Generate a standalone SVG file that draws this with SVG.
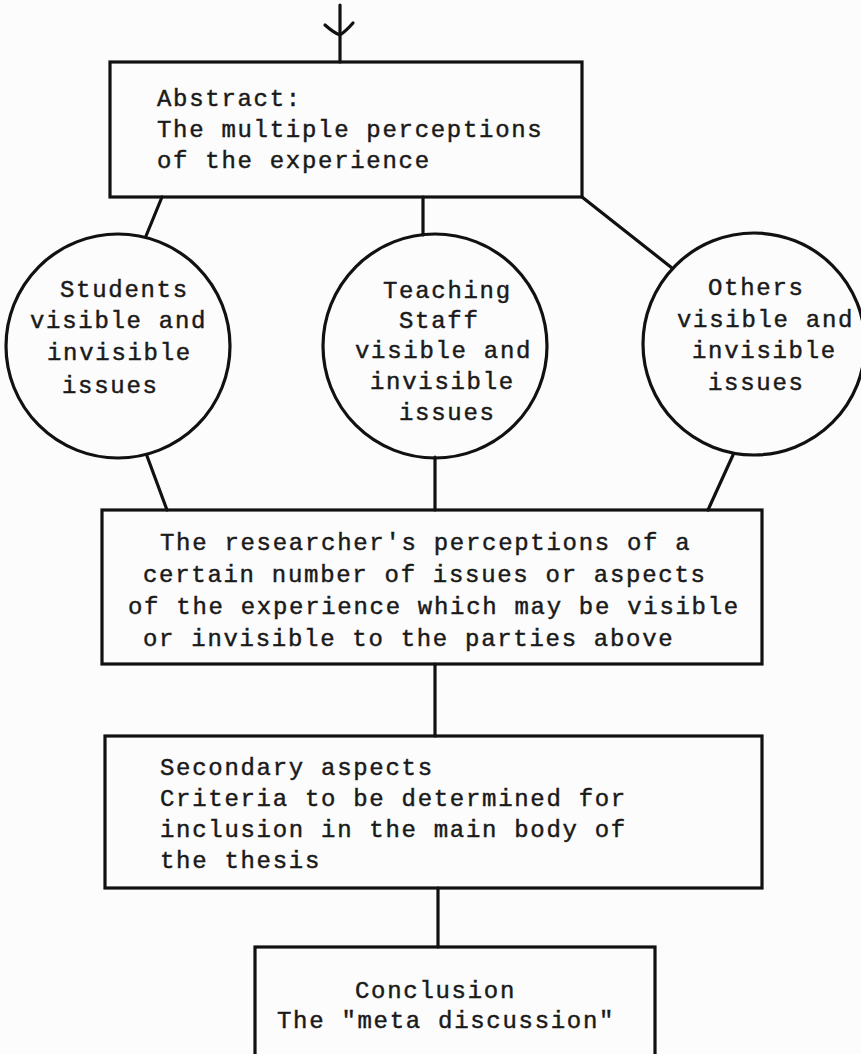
<svg xmlns="http://www.w3.org/2000/svg" width="861" height="1054" viewBox="0 0 861 1054">
  <style>
    .box { fill: none; stroke: #111; stroke-width: 3.2; }
    .bubble { fill: none; stroke: #111; stroke-width: 3.2; }
    .wire { fill: none; stroke: #111; stroke-width: 3.2; stroke-linecap: round; stroke-linejoin: round; }
    .tw { font-family: "Liberation Mono", "DejaVu Sans Mono", monospace; font-size: 24px; letter-spacing: 1.7px; fill: #1a1a1a; stroke: #1a1a1a; stroke-width: 0.45px; }
  </style>
  <rect x="0" y="0" width="861" height="1054" fill="#fcfcfc"/>

  <!-- connectors -->
  <g id="connectors">
    <path class="wire" d="M340 5 V62"/>
    <path class="wire" d="M325 25 Q334 33 340 35 Q346 31 353 23"/>
    <path class="wire" d="M162 197 L146 236"/>
    <path class="wire" d="M423 197 V235"/>
    <path class="wire" d="M582 197 L672 268"/>
    <path class="wire" d="M147 456 L167 510"/>
    <path class="wire" d="M435 457 V510"/>
    <path class="wire" d="M733 455 L708 510"/>
    <path class="wire" d="M435 664 V736"/>
    <path class="wire" d="M438 888 V947"/>
  </g>

  <!-- abstract box -->
  <g id="abstract">
    <rect class="box" x="110" y="62" width="472" height="135"/>
    <text class="tw" x="157" y="106">Abstract:</text>
    <text class="tw" x="157" y="137">The multiple perceptions</text>
    <text class="tw" x="157" y="168">of the experience</text>
  </g>

  <!-- three perspectives -->
  <g id="students">
    <circle class="bubble" cx="118" cy="346" r="112"/>
    <text class="tw" x="60" y="297">Students</text>
    <text class="tw" x="30" y="328">visible and</text>
    <text class="tw" x="47" y="360">invisible</text>
    <text class="tw" x="62" y="393">issues</text>
  </g>

  <g id="teaching-staff">
    <circle class="bubble" cx="435" cy="346" r="112"/>
    <text class="tw" x="383" y="298">Teaching</text>
    <text class="tw" x="399" y="328">Staff</text>
    <text class="tw" x="355" y="358">visible and</text>
    <text class="tw" x="370" y="389">invisible</text>
    <text class="tw" x="399" y="420">issues</text>
  </g>

  <g id="others">
    <circle class="bubble" cx="754" cy="344" r="111"/>
    <text class="tw" x="708" y="295">Others</text>
    <text class="tw" x="677" y="327">visible and</text>
    <text class="tw" x="692" y="358">invisible</text>
    <text class="tw" x="708" y="390">issues</text>
  </g>

  <!-- researcher box -->
  <g id="researcher">
    <rect class="box" x="102" y="510" width="660" height="154"/>
    <text class="tw" x="160" y="550">The researcher's perceptions of a</text>
    <text class="tw" x="143" y="582">certain number of issues or aspects</text>
    <text class="tw" x="128" y="614">of the experience which may be visible</text>
    <text class="tw" x="143" y="646">or invisible to the parties above</text>
  </g>

  <!-- secondary aspects box -->
  <g id="secondary">
    <rect class="box" x="105" y="736" width="657" height="152"/>
    <text class="tw" x="160" y="775">Secondary aspects</text>
    <text class="tw" x="160" y="806">Criteria to be determined for</text>
    <text class="tw" x="160" y="837">inclusion in the main body of</text>
    <text class="tw" x="160" y="868">the thesis</text>
  </g>

  <!-- conclusion box -->
  <g id="conclusion">
    <rect class="box" x="255" y="947" width="400" height="130"/>
    <text class="tw" x="355" y="998">Conclusion</text>
    <text class="tw" x="277" y="1028">The "meta discussion"</text>
  </g>
</svg>
